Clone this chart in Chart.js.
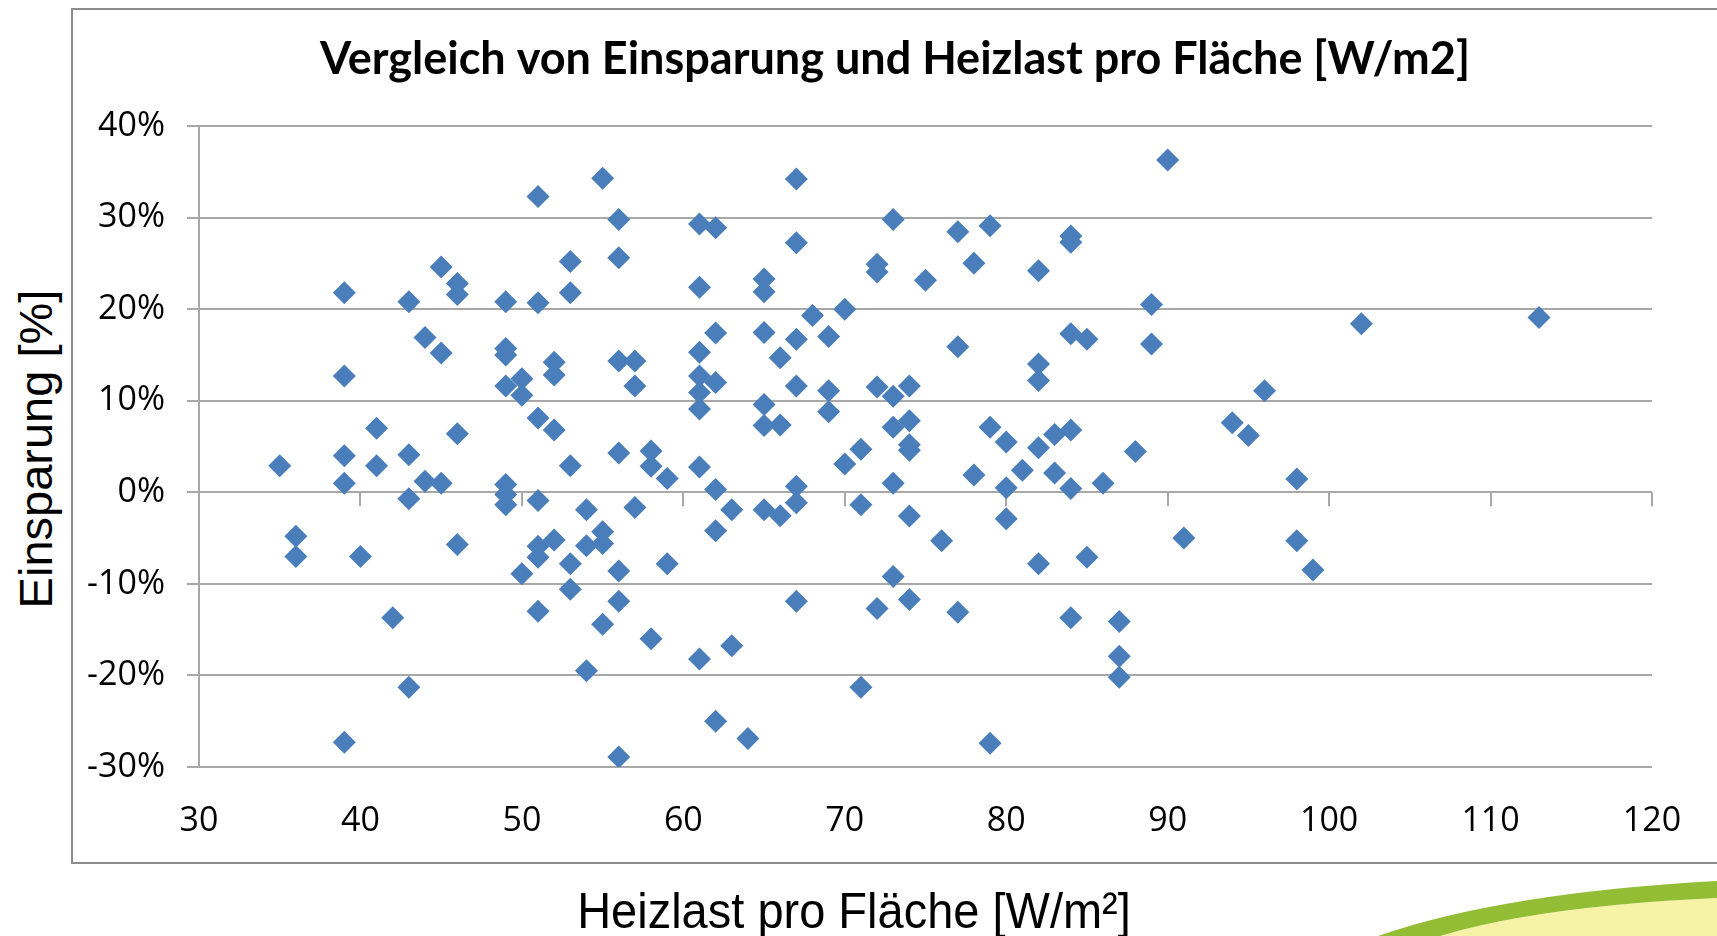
<!DOCTYPE html>
<html>
<head>
    <title>Vergleich von Einsparung und Heizlast</title>
    <script src="https://cdn.jsdelivr.net/npm/chart.js"></script>
    <style>
        body { margin: 0; background: #fff; overflow: hidden; }
        #page { position: relative; width: 1717px; height: 936px; overflow: hidden; }
        #frame { position: absolute; left: 71px; top: 8px; width: 1700px; height: 852px; border: 2px solid #8c8c8c; }
        #box { position: relative; width: 1644px; height: 852px; }
        .axisTitle { position: absolute; font-family: "Liberation Sans", Arial, sans-serif; font-size: 47px; color: #000; white-space: nowrap; }
        #xTitle { left: 854px; top: 910px; transform: translate(-50%, -50%) scaleY(1.08); }
        #yTitle { left: 35px; top: 449px; transform: translate(-50%, -50%) rotate(-90deg); }
        #swoosh { position: absolute; left: 0; top: 0; }
    </style>
</head>
<body>
<div id="page">
    <div id="frame">
        <div id="box"><canvas id="scatterChart"></canvas></div>
    </div>
    <div class="axisTitle" id="yTitle">Einsparung [%]</div>
    <div class="axisTitle" id="xTitle">Heizlast pro Fläche [W/m²]</div>
    <!-- green slide decoration, bottom right -->
    <svg id="swoosh" width="1717" height="936">
        <path d="M1440,936 Q1540,906 1717,898 L1717,936 Z" fill="#f6f3a6"/>
        <path d="M1378,936 Q1500,893 1717,881 L1717,898 Q1540,906 1440,936 Z" fill="#93bd35"/>
    </svg>
</div>

<script>
    // Heizlast pro Fläche [W/m²] and matching Einsparung [%]
    const heizlast = [
        35, 36, 36,
        39, 39, 39, 39, 39, 40, 41, 41, 42,
        43, 43, 43, 43, 44, 44, 45, 45, 45,
        46, 46, 46, 46,
        49, 49, 49, 49, 49, 49, 49,
        50, 50, 50,
        51, 51, 51, 51, 51, 51, 51,
        52, 52, 52, 52,
        53, 53, 53, 53, 53,
        54, 54, 54, 55, 55, 55, 55,
        56, 56, 56, 56, 56, 56, 56,
        57, 57, 57, 58, 58, 58, 59, 59,
        61, 61, 61, 61, 61, 61, 61, 61,
        62, 62, 62, 62, 62, 62,
        63, 63, 64,
        65, 65, 65, 65, 65, 65,
        66, 66, 66,
        67, 67, 67, 67, 67, 67, 67,
        68, 69, 69, 69, 70, 70,
        71, 71, 71, 72, 72, 72, 72,
        73, 73, 73, 73, 73,
        74, 74, 74, 74, 74, 74,
        75, 76, 77, 77, 77, 78, 78,
        79, 79, 79, 80, 80, 80, 81,
        82, 82, 82, 82, 82, 83, 83,
        84, 84, 84, 84, 84, 84,
        85, 85, 86, 87, 87, 87, 88,
        89, 89, 90, 91, 94, 95, 96,
        98, 98, 99, 102, 113
    ];
    const einsparung = [
        2.9, -4.8, -7.0,
        21.8, 12.7, 4.0, 1.0, -27.3, -7.0, 7.0, 2.9, -13.7,
        20.8, 4.1, -0.7, -21.3, 16.9, 1.2, 24.6, 15.2, 1.0,
        22.8, 21.6, 6.4, -5.7,
        20.8, 15.7, 15.0, 11.6, 0.85, -0.25, -1.35,
        12.4, 10.6, -8.9,
        32.3, 20.7, 8.1, -0.9, -5.9, -7.1, -13.0,
        14.2, 12.8, 6.8, -5.2,
        25.2, 21.8, 2.9, -7.8, -10.6,
        -1.9, -5.85, -19.5, 34.3, -4.3, -5.6, -14.4,
        29.8, 25.6, 14.35, 4.3, -8.6, -11.9, -28.9,
        14.35, 11.6, -1.65, 4.5, 2.85, -16.0, 1.5, -7.8,
        29.3, 22.4, 15.3, 12.7, 10.9, 9.1, 2.75, -18.2,
        28.9, 17.4, 12.0, 0.3, -4.2, -25.0,
        -1.9, -16.75, -26.9,
        23.3, 21.9, 17.45, 9.6, 7.3, -1.9,
        14.7, 7.35, -2.55,
        34.2, 27.25, 16.7, 11.6, 0.65, -1.15, -11.9,
        19.3, 17.0, 11.1, 8.8, 20.0, 3.1,
        4.7, -1.35, -21.3, 24.9, 24.05, 11.5, -12.7,
        29.8, 10.5, 7.1, 1.0, -9.2,
        11.6, 7.8, 5.2, 4.6, -2.6, -11.7,
        23.15, -5.3, 28.45, 15.9, -13.1, 25.0, 1.9,
        29.1, 7.1, -27.4, 5.5, 0.5, -2.9, 2.4,
        24.2, 14.0, 12.2, 4.85, -7.8, 6.3, 2.1,
        28.0, 27.3, 17.3, 6.8, 0.4, -13.7,
        16.7, -7.1, 1.0, -14.1, -17.9, -20.2, 4.45,
        20.5, 16.2, 36.3, -5.0, 7.6, 6.2, 11.1,
        1.45, -5.3, -8.5, 18.4, 19.1
    ];
    const xTicks = [30, 120, 10];   // min, max, step
    const yTicks = [-30, 40, 10];   // percent

    const points = heizlast.map((x, i) => ({ x: x, y: einsparung[i] }));

    // little downward tick marks on the 0% line, like the Excel x axis crossing at 0
    const zeroTicks = {
        id: 'zeroTicks',
        beforeDatasetsDraw(chart) {
            const xs = chart.scales.x, ys = chart.scales.y;
            const y0 = ys.getPixelForValue(0);
            const ctx = chart.ctx;
            ctx.save();
            ctx.strokeStyle = '#a8a8a8';
            ctx.lineWidth = 2;
            ctx.beginPath();
            xs.ticks.forEach(t => {
                const px = Math.round(xs.getPixelForValue(t.value));
                ctx.moveTo(px, y0);
                ctx.lineTo(px, y0 + 14);
            });
            ctx.stroke();
            ctx.restore();
        }
    };

    new Chart(document.getElementById('scatterChart'), {
        type: 'scatter',
        data: {
            datasets: [{
                label: 'Einsparung',
                data: points,
                pointStyle: 'rectRot',
                pointRadius: 11.5,
                pointHoverRadius: 11.5,
                backgroundColor: '#4a7ebb',
                borderColor: '#4a7ebb',
                borderWidth: 0
            }]
        },
        options: {
            responsive: true,
            maintainAspectRatio: false,
            animation: false,
            layout: { padding: 0 },
            plugins: {
                legend: { display: false },
                tooltip: { enabled: false },
                title: {
                    display: true,
                    text: 'Vergleich von Einsparung und Heizlast pro Fläche [W/m2]',
                    color: '#000',
                    font: { family: 'Lato', size: 45, weight: 'bold' },
                    padding: { top: 22, bottom: 40 }
                }
            },
            scales: {
                x: {
                    type: 'linear',
                    min: xTicks[0],
                    max: xTicks[1],
                    ticks: {
                        stepSize: xTicks[2],
                        color: '#000',
                        padding: 34,
                        font: { family: 'Open Sans', size: 34 }
                    },
                    grid: { display: false, drawTicks: false },
                    border: { display: false },
                    afterFit: s => { s.height = 95; }
                },
                y: {
                    min: yTicks[0],
                    max: yTicks[1],
                    ticks: {
                        stepSize: yTicks[2],
                        color: '#000',
                        padding: 22,
                        font: { family: 'Open Sans', size: 34 },
                        callback: v => v + '%'
                    },
                    grid: { color: '#a8a8a8', lineWidth: 2, tickLength: 12 },
                    border: { display: true, color: '#a8a8a8', width: 2 },
                    afterFit: s => { s.width = 126; }
                },
                // empty spacer on the right so the title stays centred in the frame
                spacer: {
                    type: 'linear',
                    position: 'right',
                    display: true,
                    ticks: { display: false },
                    grid: { display: false, drawTicks: false },
                    border: { display: false },
                    afterFit: s => { s.width = 65; }
                }
            }
        },
        plugins: [zeroTicks]
    });
</script>
</body>
</html>
